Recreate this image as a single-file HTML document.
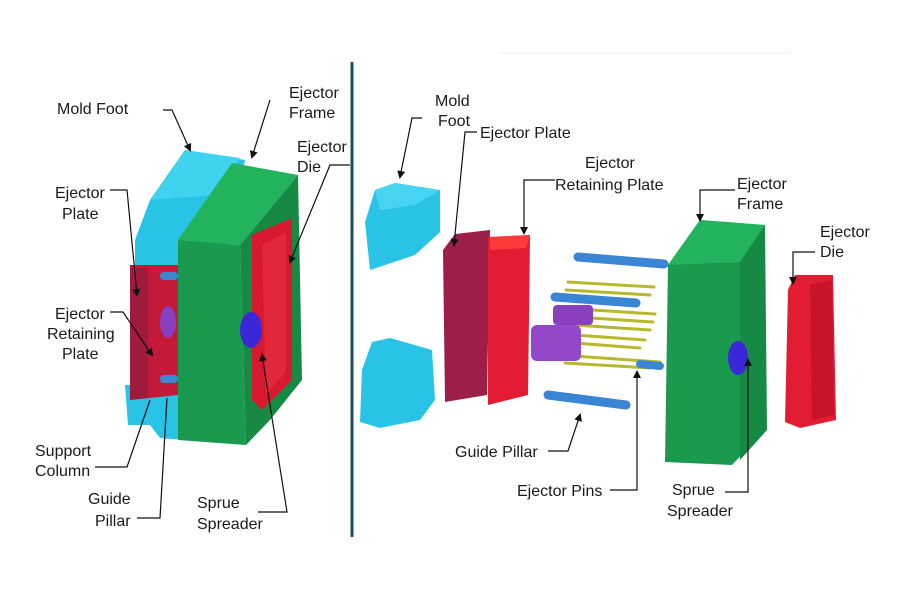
<!DOCTYPE html>
<html><head><meta charset="utf-8"><style>
html,body{margin:0;padding:0;background:#fff;}
svg{display:block;}
text{font-family:"Liberation Sans",Arial,sans-serif;font-size:16px;fill:#1a1a1a;}
</style></head><body>
<svg width="900" height="600" viewBox="0 0 900 600" xmlns="http://www.w3.org/2000/svg">
<defs>
<marker id="a" markerWidth="8" markerHeight="8" refX="6" refY="4" orient="auto" markerUnits="userSpaceOnUse">
<path d="M0,0 L8,4 L0,8 z" fill="#111"/></marker>
</defs>
<line x1="500" y1="53" x2="790" y2="53" stroke="#eee" stroke-width="1"/>
<line x1="352" y1="62" x2="352" y2="537" stroke="#1f4e5f" stroke-width="3"/>

<!-- LEFT ASSEMBLY -->
<polygon points="135,240 150,200 185,150 245,160 225,250 185,268 135,268" fill="#29c3e6"/>
<polygon points="150,200 185,150 240,158 215,195" fill="#3fd3f0"/>
<polygon points="125,385 185,385 185,440 160,438 150,425 128,425" fill="#29c3e6"/>
<polygon points="130,265 178,265 178,395 130,400" fill="#c41a3a"/>
<polygon points="130,268 148,268 148,398 130,400" fill="#9e1b3e"/>
<ellipse cx="168" cy="322" rx="8" ry="16" fill="#8a3fc0"/>
<rect x="160" y="272" width="18" height="8" rx="4" fill="#3c88d0"/>
<rect x="160" y="375" width="18" height="8" rx="4" fill="#3c88d0"/>
<polygon points="178,240 240,245 246,445 178,440" fill="#1a9a4e"/>
<polygon points="178,240 232,163 298,175 240,245" fill="#23b35d"/>
<polygon points="240,245 298,175 302,380 270,420 246,445" fill="#168a45"/>
<polygon points="252,235 292,218 292,380 262,410 252,400" fill="#d8182e"/>
<polygon points="262,245 286,232 286,372 266,395" fill="#e0283a"/>
<ellipse cx="251" cy="330" rx="11" ry="18" fill="#3a27d8"/>

<!-- RIGHT PARTS -->
<polygon points="375,190 395,183 440,190 440,232 415,255 370,270 365,222" fill="#29c3e6"/>
<polygon points="375,190 395,183 440,190 415,205 380,210" fill="#47d4f2"/>
<polygon points="372,342 390,338 432,350 435,400 420,420 380,428 360,422 362,370" fill="#29c3e6"/>
<polygon points="455,234 490,230 487,395 445,402 443,250" fill="#9c1f48"/>
<polygon points="488,237 530,235 528,395 488,405" fill="#e21c33"/>
<polygon points="490,237 530,235 526,248 490,250" fill="#ff3a3a"/>
<g stroke-linecap="round">
<line x1="578" y1="257" x2="664" y2="264" stroke="#3a86d4" stroke-width="9"/>
<line x1="568" y1="282" x2="654" y2="287" stroke="#b7b82c" stroke-width="3"/>
<line x1="566" y1="290" x2="650" y2="295" stroke="#b7b82c" stroke-width="3"/>
<line x1="555" y1="297" x2="636" y2="303" stroke="#3a86d4" stroke-width="9"/>
<line x1="560" y1="308" x2="655" y2="314" stroke="#b7b82c" stroke-width="3"/>
<line x1="560" y1="316" x2="653" y2="322" stroke="#b7b82c" stroke-width="3"/>
<line x1="560" y1="324" x2="650" y2="330" stroke="#b7b82c" stroke-width="3"/>
<line x1="575" y1="335" x2="645" y2="340" stroke="#b7b82c" stroke-width="3"/>
<line x1="575" y1="343" x2="640" y2="348" stroke="#b7b82c" stroke-width="3"/>
<line x1="560" y1="355" x2="660" y2="362" stroke="#b7b82c" stroke-width="3"/>
<line x1="565" y1="363" x2="650" y2="368" stroke="#b7b82c" stroke-width="3"/>
<line x1="640" y1="364" x2="660" y2="366" stroke="#3a86d4" stroke-width="8"/>
<line x1="548" y1="395" x2="626" y2="405" stroke="#3a86d4" stroke-width="9"/>
</g>
<rect x="553" y="305" width="40" height="20" rx="4" fill="#8a3fc0"/>
<rect x="531" y="325" width="50" height="36" rx="6" fill="#9248c8"/>
<polygon points="668,265 700,220 765,225 765,430 732,465 665,462" fill="#1a9a4e"/>
<polygon points="668,265 700,220 765,225 740,262" fill="#23b35d"/>
<polygon points="740,262 765,225 767,430 740,460" fill="#168a45"/>
<ellipse cx="738" cy="358" rx="10" ry="17" fill="#3a27d8"/>
<polygon points="795,275 833,275 836,420 800,428 785,422 788,290" fill="#e21c33"/>
<polygon points="810,285 832,280 834,415 812,420" fill="#c8142a"/>

<!-- LEADERS -->
<g stroke="#111" stroke-width="1.2" fill="none">
<polyline points="163,110 172,110 190,150" marker-end="url(#a)"/>
<polyline points="270,100 252,157" marker-end="url(#a)"/>
<polyline points="350,165 330,165 290,262" marker-end="url(#a)"/>
<polyline points="110,190 127,190 137,295" marker-end="url(#a)"/>
<polyline points="110,312 123,312 152,355" marker-end="url(#a)"/>
<polyline points="95,467 127,467 150,400"/>
<polyline points="137,518 160,518 167,398"/>
<polyline points="258,512 287,512 262,355" marker-end="url(#a)"/>
<polyline points="422,118 412,118 400,177" marker-end="url(#a)"/>
<polyline points="477,132 465,132 454,245" marker-end="url(#a)"/>
<polyline points="555,180 524,180 524,233" marker-end="url(#a)"/>
<polyline points="735,190 700,190 700,220" marker-end="url(#a)"/>
<polyline points="815,252 793,252 793,283" marker-end="url(#a)"/>
<polyline points="548,451 568,451 580,415" marker-end="url(#a)"/>
<polyline points="610,490 637,490 637,372" marker-end="url(#a)"/>
<polyline points="725,492 748,492 748,360" marker-end="url(#a)"/>
</g>

<!-- LABELS -->
<text x="57" y="114">Mold Foot</text>
<text x="289" y="98">Ejector</text><text x="289" y="118">Frame</text>
<text x="297" y="152">Ejector</text><text x="297" y="172">Die</text>
<text x="55" y="198">Ejector</text><text x="62" y="219">Plate</text>
<text x="55" y="319">Ejector</text><text x="47" y="339">Retaining</text><text x="62" y="359">Plate</text>
<text x="35" y="456">Support</text><text x="35" y="476">Column</text>
<text x="88" y="504">Guide</text><text x="95" y="526">Pillar</text>
<text x="197" y="508">Sprue</text><text x="197" y="529">Spreader</text>
<text x="435" y="106">Mold</text><text x="438" y="126">Foot</text>
<text x="480" y="138">Ejector Plate</text>
<text x="585" y="168">Ejector</text><text x="555" y="190">Retaining Plate</text>
<text x="737" y="189">Ejector</text><text x="737" y="209">Frame</text>
<text x="820" y="237">Ejector</text><text x="820" y="257">Die</text>
<text x="455" y="457">Guide Pillar</text>
<text x="517" y="496">Ejector Pins</text>
<text x="672" y="495">Sprue</text><text x="667" y="516">Spreader</text>
</svg>
</body></html>
